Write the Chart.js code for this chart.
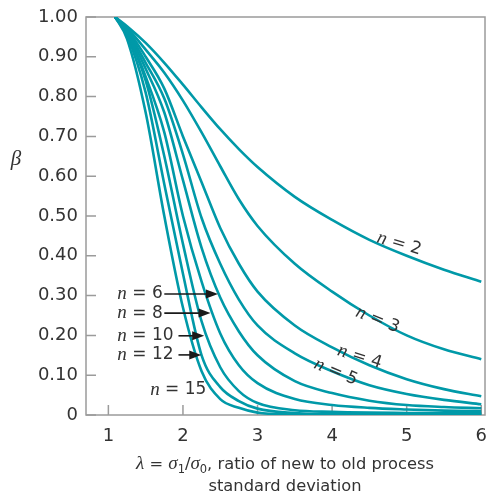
<!DOCTYPE html>
<html lang="en">
<head>
  <meta charset="UTF-8">
  <title>OC curves for the R chart</title>
  <script src="https://cdn.jsdelivr.net/npm/chart.js"></script>
  <style>
    html, body { margin: 0; padding: 0; background: #fff; }
    #wrap { width: 486px; height: 494px; }
  </style>
</head>
<body>
  <div id="wrap"><canvas id="oc" width="486" height="494"></canvas></div>

  <script>
    // lambda = sigma1 / sigma0, the points each curve was read at
    const lambdaVals = [1.09, 1.25, 1.5, 1.75, 2, 2.25, 2.5, 2.75, 3, 3.5, 4, 4.5, 5, 5.5, 6];

    // beta, one array per sample size
    const betaN2  = [1.00, 0.977, 0.935, 0.885, 0.83, 0.773, 0.718, 0.668, 0.623, 0.548, 0.49, 0.44, 0.40, 0.365, 0.335];
    const betaN3  = [1.00, 0.973, 0.918, 0.86, 0.79, 0.71, 0.625, 0.542, 0.475, 0.38, 0.31, 0.25, 0.20, 0.165, 0.14];
    const betaN4  = [1.00, 0.97, 0.90, 0.82, 0.70, 0.585, 0.47, 0.38, 0.31, 0.225, 0.17, 0.125, 0.09, 0.065, 0.047];
    const betaN5  = [1.00, 0.967, 0.885, 0.795, 0.655, 0.495, 0.38, 0.29, 0.225, 0.155, 0.11, 0.075, 0.053, 0.038, 0.027];
    const betaN6  = [1.00, 0.964, 0.87, 0.76, 0.59, 0.42, 0.295, 0.21, 0.15, 0.085, 0.055, 0.036, 0.025, 0.02, 0.017];
    const betaN8  = [1.00, 0.96, 0.85, 0.71, 0.50, 0.335, 0.205, 0.125, 0.08, 0.04, 0.025, 0.018, 0.014, 0.011, 0.009];
    const betaN10 = [1.00, 0.957, 0.84, 0.65, 0.43, 0.235, 0.12, 0.06, 0.03, 0.012, 0.008, 0.006, 0.005, 0.004, 0.004];
    const betaN12 = [1.00, 0.953, 0.81, 0.58, 0.355, 0.15, 0.07, 0.035, 0.016, 0.005, 0.002, 0.002, 0.002, 0.002, 0.002];
    const betaN15 = [1.00, 0.945, 0.76, 0.50, 0.27, 0.11, 0.04, 0.018, 0.006, 0.001, 0, 0, 0, 0, 0];

    const sampleSizes = [2, 3, 4, 5, 6, 8, 10, 12, 15];
    const betaSeries = [betaN2, betaN3, betaN4, betaN5, betaN6, betaN8, betaN10, betaN12, betaN15];

    const xTicks = [1, 2, 3, 4, 5, 6];
    const xTickLabels = ['1', '2', '3', '4', '5', '6'];
    const yTicks = [0, 0.1, 0.2, 0.3, 0.4, 0.5, 0.6, 0.7, 0.8, 0.9, 1.0];
    const yTickLabels = ['0', '0.10', '0.20', '0.30', '0.40', '0.50', '0.60', '0.70', '0.80', '0.90', '1.00'];

    // curve labels: [text, lambda, beta, angle in degrees]
    const slantLabels = [
      ['2', 4.90, 0.43, 17],
      ['3', 4.61, 0.239, 22],
      ['4', 4.37, 0.146, 18],
      ['5', 4.05, 0.108, 23]
    ];
    // left labels with arrows: [text, lambda of text start, beta, arrow from, arrow to]
    const arrowLabels = [
      ['6', 1.12, 0.304, 1.75, 2.47],
      ['8', 1.12, 0.256, 1.75, 2.37],
      ['10', 1.12, 0.199, 1.94, 2.285],
      ['12', 1.12, 0.151, 1.94, 2.245]
    ];
    const plainLabels = [
      ['15', 1.56, 0.063]
    ];

    const TEAL = '#0099a8';
    const AXIS = '#9b9b9b';
    const TEXT = '#333333';
    const N_FONT = 'italic 19px "Liberation Serif"';
    const EQ_FONT = '17px "DejaVu Sans"';

    // draws a run of text pieces with different fonts, left or centred
    function drawRun(ctx, parts, x, y, align) {
      let total = 0;
      parts.forEach(p => {
        ctx.font = p.font;
        p.w = ctx.measureText(p.text).width;
        total += p.w;
      });
      let cx = align === 'center' ? x - total / 2 : x;
      parts.forEach(p => {
        ctx.font = p.font;
        ctx.fillText(p.text, cx, y + (p.dy || 0));
        cx += p.w;
      });
    }

    function nParts(num) {
      return [{ text: 'n', font: N_FONT }, { text: ' = ' + num, font: EQ_FONT }];
    }

    const ocDecor = {
      id: 'ocDecor',
      beforeDatasetsDraw(chart) {
        const { ctx, chartArea: a, scales: { x, y } } = chart;
        ctx.save();
        ctx.strokeStyle = AXIS;
        ctx.lineWidth = 1.5;
        ctx.strokeRect(a.left, a.top, a.right - a.left, a.bottom - a.top);
        ctx.beginPath();
        xTicks.forEach(v => {
          const px = x.getPixelForValue(v);
          ctx.moveTo(px, a.bottom);
          ctx.lineTo(px, a.bottom - 10);
        });
        yTicks.forEach(v => {
          const py = y.getPixelForValue(v);
          ctx.moveTo(a.left, py);
          ctx.lineTo(a.left + 10, py);
        });
        ctx.stroke();
        ctx.restore();
      },
      afterDatasetsDraw(chart) {
        const { ctx, scales: { x, y } } = chart;
        ctx.save();
        ctx.fillStyle = TEXT;
        ctx.textBaseline = 'middle';

        slantLabels.forEach(([num, lx, ly, ang]) => {
          ctx.save();
          ctx.translate(x.getPixelForValue(lx), y.getPixelForValue(ly));
          ctx.rotate(ang * Math.PI / 180);
          drawRun(ctx, nParts(num), 0, 0, 'center');
          ctx.restore();
        });

        ctx.strokeStyle = '#1a1a1a';
        arrowLabels.forEach(([num, lx, ly, ax0, ax1]) => {
          const py = y.getPixelForValue(ly);
          ctx.fillStyle = TEXT;
          drawRun(ctx, nParts(num), x.getPixelForValue(lx), py, 'left');
          const x0 = x.getPixelForValue(ax0);
          const x1 = x.getPixelForValue(ax1);
          ctx.lineWidth = 1.6;
          ctx.beginPath();
          ctx.moveTo(x0, py);
          ctx.lineTo(x1 - 8, py);
          ctx.stroke();
          ctx.fillStyle = '#1a1a1a';
          ctx.beginPath();
          ctx.moveTo(x1, py);
          ctx.lineTo(x1 - 12, py - 4.5);
          ctx.lineTo(x1 - 12, py + 4.5);
          ctx.closePath();
          ctx.fill();
        });

        ctx.fillStyle = TEXT;
        plainLabels.forEach(([num, lx, ly]) => {
          drawRun(ctx, nParts(num), x.getPixelForValue(lx), y.getPixelForValue(ly), 'left');
        });

        // x axis title, two lines centred under the plot
        const cx = 285;
        ctx.textBaseline = 'alphabetic';
        const SANS = '16.3px "DejaVu Sans"';
        const SER = 'italic 19px "Liberation Serif"';
        const SUB = '11.5px "DejaVu Sans"';
        drawRun(ctx, [
          { text: 'λ', font: SER },
          { text: ' = ', font: SANS },
          { text: 'σ', font: SER },
          { text: '1', font: SUB, dy: 4 },
          { text: '/', font: SANS },
          { text: 'σ', font: SER },
          { text: '0', font: SUB, dy: 4 },
          { text: ', ratio of new to old process', font: SANS }
        ], cx, 469, 'center');
        drawRun(ctx, [{ text: 'standard deviation', font: SANS }], cx, 491, 'center');

        // y axis title
        ctx.font = 'italic 21px "Liberation Serif"';
        ctx.textAlign = 'center';
        ctx.fillText('β', 16, 165);
        ctx.restore();
      }
    };

    window.onload = () => {
      const ctx = document.getElementById('oc').getContext('2d');
      new Chart(ctx, {
        type: 'line',
        data: {
          datasets: sampleSizes.map((n, i) => ({
            label: 'n = ' + n,
            data: lambdaVals.map((l, j) => ({ x: l, y: betaSeries[i][j] })),
            borderColor: TEAL,
            borderWidth: 2.6,
            pointRadius: 0,
            cubicInterpolationMode: 'monotone',
            fill: false
          }))
        },
        options: {
          responsive: false,
          animation: false,
          devicePixelRatio: 1,
          layout: { padding: { top: 17, right: 1, left: 0, bottom: 0 } },
          plugins: { legend: { display: false }, tooltip: { enabled: false } },
          scales: {
            x: {
              type: 'linear',
              min: 0.7,
              max: 6.05,
              grid: { display: false, drawTicks: false },
              border: { display: false },
              afterBuildTicks: s => { s.ticks = xTicks.map(v => ({ value: v })); },
              ticks: {
                callback: (v, i) => xTickLabels[i],
                font: { family: 'DejaVu Sans', size: 18 },
                color: TEXT,
                padding: 11,
                maxRotation: 0,
                autoSkip: false
              },
              afterFit: s => { s.height = 79; s.paddingLeft = 0; s.paddingRight = 0; }
            },
            y: {
              min: 0,
              max: 1,
              grid: { display: false, drawTicks: false },
              border: { display: false },
              afterBuildTicks: s => { s.ticks = yTicks.map(v => ({ value: v })); },
              ticks: {
                callback: (v, i) => yTickLabels[i],
                font: { family: 'DejaVu Sans', size: 18 },
                color: TEXT,
                padding: 8,
                autoSkip: false
              },
              afterFit: s => { s.width = 86; s.paddingTop = 0; s.paddingBottom = 0; }
            }
          }
        },
        plugins: [ocDecor]
      });
    };
  </script>
</body>
</html>
